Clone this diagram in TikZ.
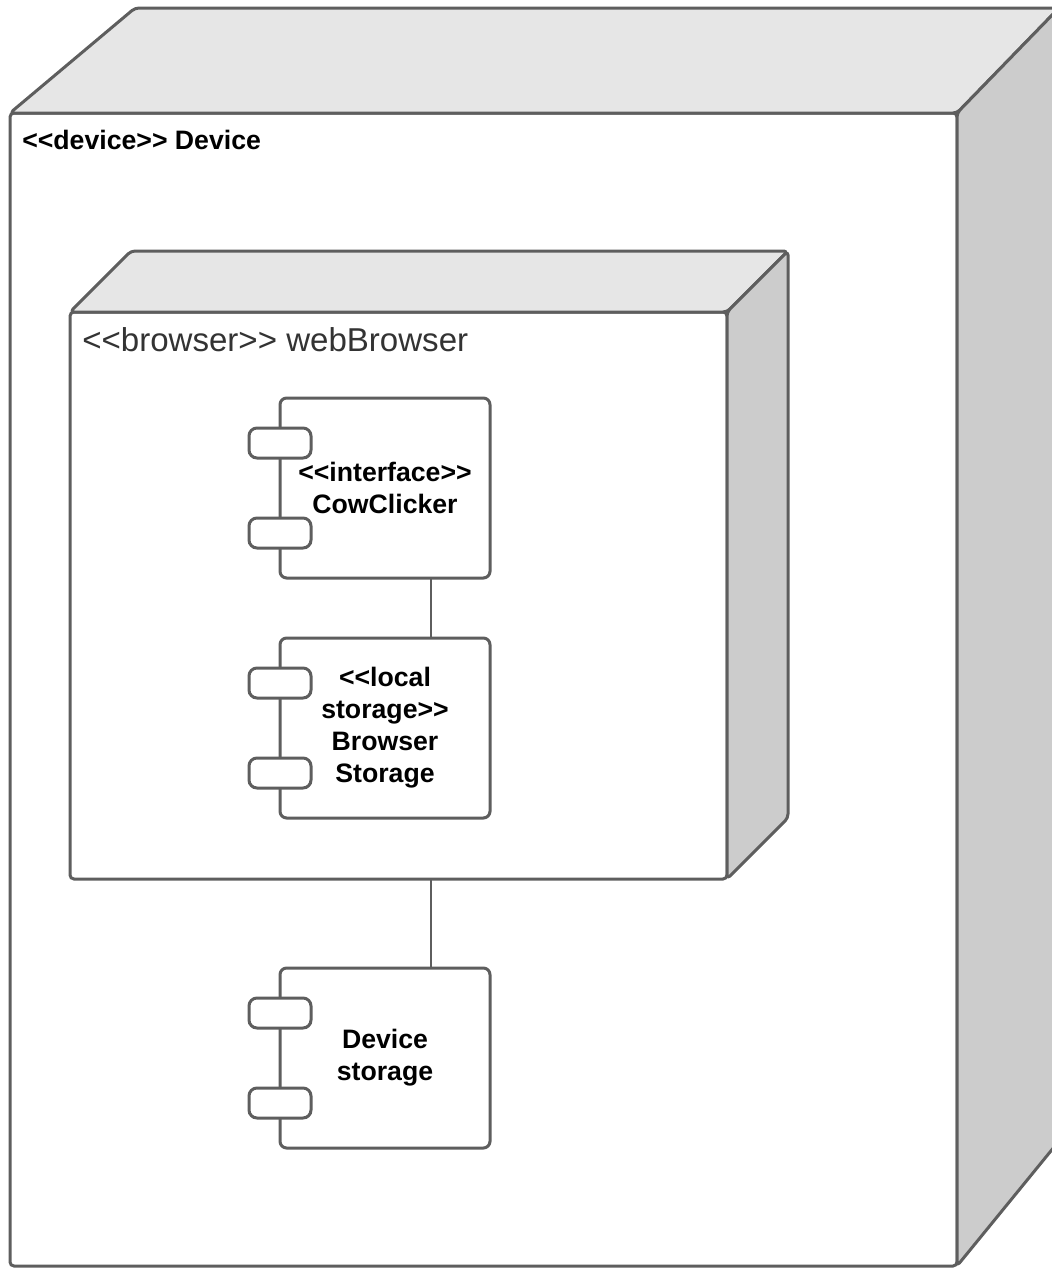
\documentclass[tikz,border=0pt]{standalone}
\usepackage{fontspec}
\setsansfont{Liberation Sans}[Ligatures=TeXOff]
\usetikzlibrary{positioning}
\usetikzlibrary{calc}
\usepackage{xcolor}

\definecolor{edgegray}{HTML}{5E5E5E}
\definecolor{topgray}{HTML}{E6E6E6}
\definecolor{sidegray}{HTML}{CCCCCC}
\definecolor{labelgray}{HTML}{333333}

\tikzset{
  front/.style={draw=edgegray, line width=2.25pt, rounded corners=3pt, fill=white, inner sep=0pt, outer sep=0pt},
  topface/.style={draw=edgegray, line width=2.25pt, rounded corners=3pt, line join=round, fill=topgray},
  sideface/.style={draw=edgegray, line width=2.25pt, rounded corners=3pt, line join=round, fill=sidegray},
  comp/.style={draw=edgegray, line width=2.25pt, rounded corners=5pt, fill=white, outer sep=0pt,
    minimum width=210*0.75pt, minimum height=180*0.75pt, align=center,
    font=\sffamily\bfseries\fontsize{20}{24}\selectfont},
  port/.style={draw=edgegray, line width=2.25pt, rounded corners=6pt, fill=white, inner sep=0pt,
    minimum width=62*0.75pt, minimum height=30*0.75pt},
  link/.style={draw=edgegray, line width=1.5pt}
}

\begin{document}
\begin{tikzpicture}[x=0.75pt, y=-0.75pt]
\useasboundingbox (0,0) rectangle (1052,1268);
\clip (0,0) rectangle (1052,1268);

% DEVICE %
%%%%%%%%%%%%  outer node %%%%%%%%%%%%%
\node[front, minimum width=947*0.75pt, minimum height=1153*0.75pt] (device) at (483.5,689.5) {};
\draw[topface] (device.north west) -- ++(125,-105) -- ++(924,0) -- (device.north east) -- cycle;
\draw[sideface] (device.north east) -- ++(102,-105) -- ++(0,1133) -- (device.south east) -- cycle;
\node[anchor=base west, inner sep=0pt, font=\sffamily\bfseries\fontsize{20}{24}\selectfont]
  (devicelabel) at ($(device.north west)+(12,36)$) {<<device>> Device};

% BROWSER %
%%%%%%%%%%%%  inner node %%%%%%%%%%%%%
\node[front, minimum width=657*0.75pt, minimum height=567*0.75pt] (browser) at (398.5,595.5) {};
\draw[topface] (browser.north west) -- ++(61,-61) -- ++(657,0) -- (browser.north east) -- cycle;
\draw[sideface] (browser.north east) -- ++(61,-61) -- ++(0,567) -- (browser.south east) -- cycle;
\node[anchor=base west, inner sep=0pt, text=labelgray, font=\sffamily\fontsize{24.8}{28}\selectfont]
  (browserlabel) at ($(browser.north west)+(12,39)$) {<<browser>> webBrowser};

% components
\node[comp] (cow) at (385,488) {<<interface>>\\CowClicker};
\node[comp, below=45pt of cow] (bstore) {<<local\\storage>>\\Browser\\Storage};
\node[comp] (devstore) at (385,1058) {Device\\storage};

% ports
\foreach \c in {cow,bstore,devstore}
{
\node[port] (\c-p1) at ($(\c.west)+(0,-45)$) {};
\node[port] (\c-p2) at ($(\c.west)+(0,45)$) {};
}

% links
\draw[link] ($(cow.south)+(46,0)$) -- ($(bstore.north)+(46,0)$);
\draw[link] ($(browser.south)+(32.5,0)$) -- ($(devstore.north)+(46,0)$);

\end{tikzpicture}
\end{document}
